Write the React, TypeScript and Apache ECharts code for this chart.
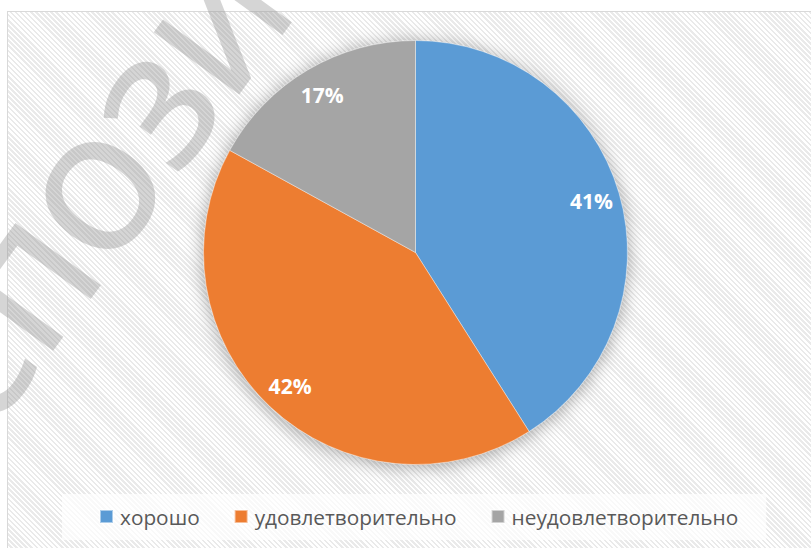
import React, { useEffect, useRef } from "react";
import * as echarts from "echarts";

const categories = ["хорошо", "удовлетворительно", "неудовлетворительно"];
const values = [41, 42, 17];
const colors = ["#5B9BD5", "#ED7D31", "#A5A5A5"];
const watermarkText = "ЭКСПОЗИЦИЯ";

export default function App() {
  const ref = useRef<HTMLDivElement>(null);

  useEffect(() => {
    if (!ref.current) return;
    const chart = echarts.init(ref.current, undefined, { renderer: "svg" });
    const data = categories.map((name, i) => ({
      name,
      value: values[i],
      itemStyle: { color: colors[i] },
    }));
    const center = [415.5, 252.5];
    const R = 212;
    chart.setOption({
      animation: false,
      backgroundColor: "transparent",
      legend: {
        data: categories.map((name, i) => ({ name, itemStyle: { color: colors[i] } })),
        left: 62,
        top: 494,
        orient: "horizontal",
        icon: "rect",
        itemWidth: 13,
        itemHeight: 13,
        itemGap: 34,
        padding: [12, 28, 13, 37],
        backgroundColor: "rgba(255,255,255,0.72)",
        textStyle: { fontFamily: "Open Sans", fontSize: 20.8, color: "#595959", padding: [0, 0, 0, 2] },
        selectedMode: false,
      },
      graphic: [
        {
          type: "text",
          x: 138,
          y: 136,
          rotation: (54 * Math.PI) / 180,
          z: 100,
          silent: true,
          style: {
            text: watermarkText,
            fontFamily: "Open Sans",
            fontWeight: 600,
            fontSize: 148,
            fill: "rgba(150,150,150,0.4)",
            align: "center",
            verticalAlign: "middle",
          },
        },
      ],
      series: [
        {
          type: "pie",
          name: "shadow",
          center,
          radius: [0, R],
          silent: true,
          z: 1,
          label: { show: false },
          labelLine: { show: false },
          data: [
            {
              name: "base",
              value: 1,
              itemStyle: {
                color: "#cccccc",
                shadowBlur: 18,
                shadowColor: "rgba(0,0,0,0.35)",
                shadowOffsetX: 0,
                shadowOffsetY: 2,
              },
            },
          ],
        },
        {
          type: "pie",
          name: "main",
          center,
          radius: [0, R],
          z: 2,
          silent: true,
          label: { show: false },
          labelLine: { show: false },
          itemStyle: { borderColor: "rgba(255,255,255,0.5)", borderWidth: 0.8 },
          data,
        },
        {
          type: "pie",
          name: "labels",
          center,
          radius: [R * 0.7, R],
          z: 3,
          silent: true,
          itemStyle: { color: "transparent" },
          label: {
            show: true,
            position: "inside",
            formatter: "{c}%",
            color: "#ffffff",
            fontFamily: "Open Sans",
            fontWeight: "bold",
            fontSize: 21,
          },
          labelLine: { show: false },
          data: categories.map((name, i) => ({
            name,
            value: values[i],
            itemStyle: { color: "transparent" },
          })),
        },
      ],
    });
    return () => chart.dispose();
  }, []);

  return (
    <div style={{ position: "absolute", left: 0, top: 0, width: 811, height: 548, background: "#ffffff", overflow: "hidden" }}>
      <div
        style={{
          position: "absolute",
          left: 7,
          top: 11,
          width: 804,
          height: 537,
          boxSizing: "border-box",
          borderLeft: "1px solid #d9d9d9",
          borderTop: "1px solid #d9d9d9",
          background:
            "repeating-linear-gradient(45deg, #ffffff 0px, #ffffff 1.8px, #eaeaea 1.8px, #eaeaea 3.6px)",
        }}
      />
      <div ref={ref} style={{ position: "absolute", left: 0, top: 0, width: 811, height: 548 }} />
    </div>
  );
}
